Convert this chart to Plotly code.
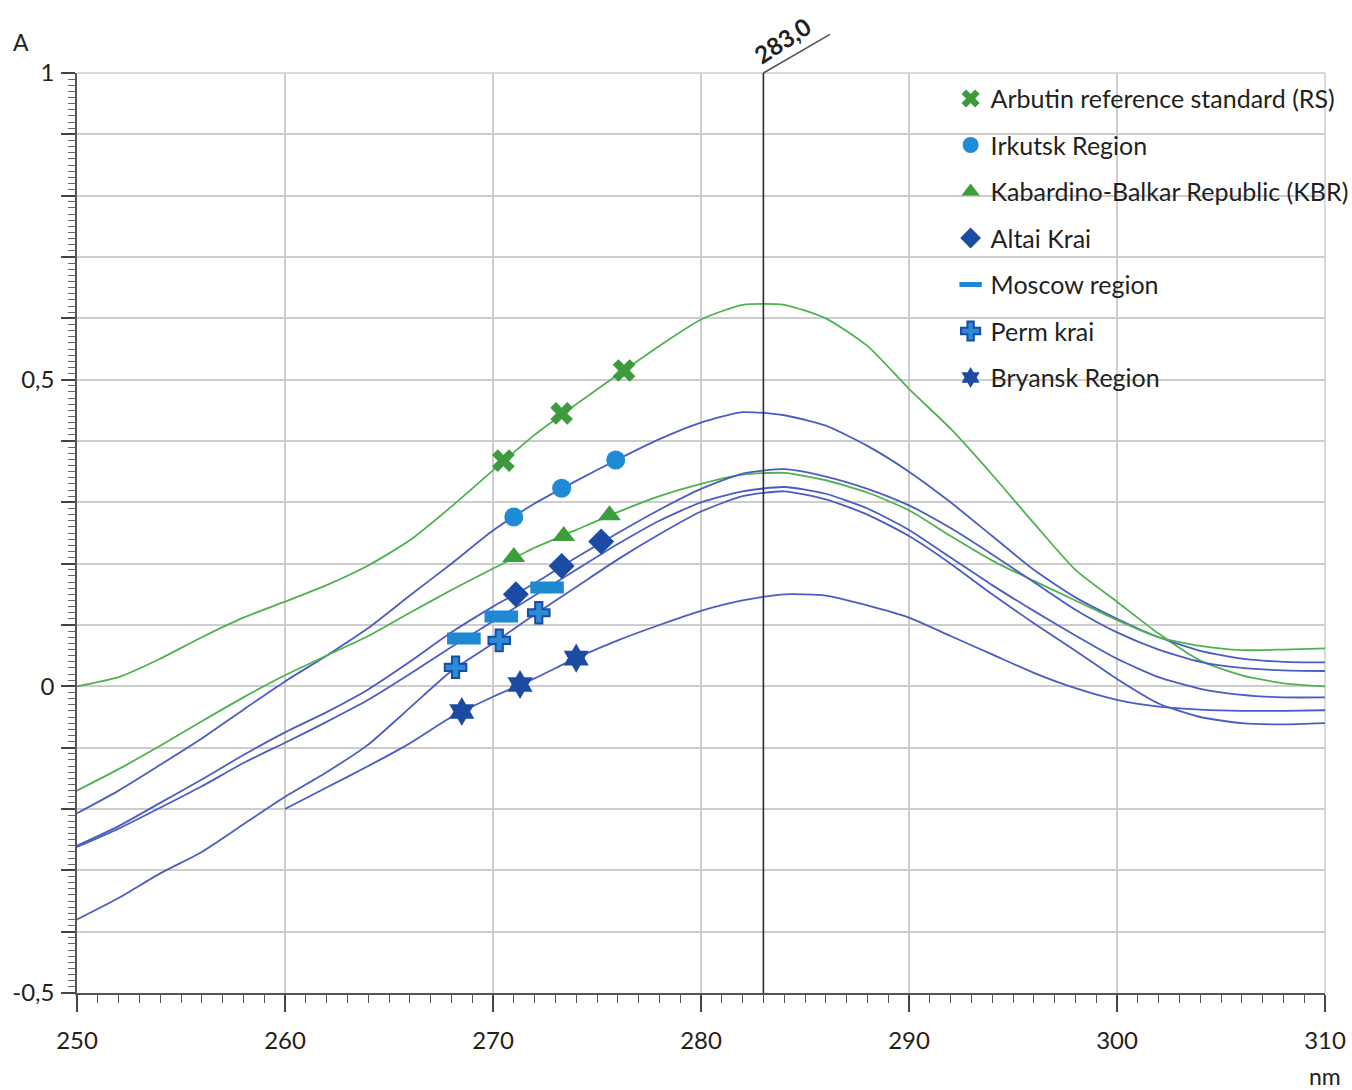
import plotly.graph_objects as go

# ---------------- data ----------------
wavelength = [250, 252, 254, 256, 258, 260, 262, 264, 266, 268, 270, 272, 274, 276, 278,
              280, 282, 284, 286, 288, 290, 292, 294, 296, 298, 300, 302, 304, 306, 308, 310]

rs = [0.0, 0.015, 0.045, 0.08, 0.112, 0.138, 0.165, 0.197, 0.238, 0.293, 0.352, 0.41, 0.46, 0.508, 0.555,
      0.598, 0.622, 0.622, 0.60, 0.555, 0.485, 0.42, 0.345, 0.266, 0.19, 0.138, 0.086, 0.042, 0.018, 0.005, 0.0]
irkutsk = [-0.207, -0.17, -0.128, -0.085, -0.038, 0.008, 0.05, 0.095, 0.148, 0.2, 0.254, 0.298, 0.335, 0.37, 0.403,
           0.43, 0.447, 0.442, 0.425, 0.392, 0.35, 0.3, 0.245, 0.19, 0.145, 0.11, 0.08, 0.058, 0.045, 0.04, 0.039]
kbr = [-0.17, -0.135, -0.097, -0.057, -0.018, 0.018, 0.05, 0.082, 0.12, 0.157, 0.192, 0.226, 0.255, 0.284, 0.31,
       0.33, 0.345, 0.348, 0.336, 0.316, 0.287, 0.245, 0.205, 0.172, 0.14, 0.108, 0.08, 0.066, 0.059, 0.06, 0.062]
altai = [-0.26, -0.228, -0.19, -0.152, -0.112, -0.075, -0.042, -0.005, 0.04, 0.088, 0.13, 0.168, 0.21, 0.25, 0.288,
         0.322, 0.347, 0.354, 0.342, 0.322, 0.295, 0.258, 0.215, 0.17, 0.125, 0.088, 0.06, 0.04, 0.03, 0.026, 0.025]
moscow = [-0.262, -0.232, -0.198, -0.163, -0.125, -0.092, -0.058, -0.022, 0.02, 0.064, 0.106, 0.148, 0.19, 0.232, 0.27,
          0.3, 0.318, 0.325, 0.314, 0.29, 0.255, 0.21, 0.165, 0.123, 0.083, 0.045, 0.015, -0.004, -0.014, -0.018, -0.018]
perm = [-0.38, -0.345, -0.305, -0.27, -0.225, -0.18, -0.14, -0.095, -0.035, 0.025, 0.07, 0.117, 0.162, 0.207, 0.248,
        0.285, 0.31, 0.318, 0.305, 0.28, 0.245, 0.2, 0.15, 0.103, 0.058, 0.012, -0.028, -0.05, -0.06, -0.062, -0.06]
bryansk = [None, None, None, None, None, -0.2, -0.165, -0.13, -0.093, -0.05, -0.017, 0.013, 0.046, 0.075, 0.1,
           0.123, 0.14, 0.15, 0.148, 0.132, 0.112, 0.082, 0.052, 0.022, -0.003, -0.022, -0.033, -0.038, -0.04, -0.04, -0.039]

# marker points (wavelength, absorbance)
rs_mx, rs_my = [270.5, 273.3, 276.3], [0.368, 0.445, 0.515]
irk_mx, irk_my = [271.0, 273.3, 275.9], [0.276, 0.323, 0.369]
kbr_mx, kbr_my = [271.0, 273.4, 275.6], [0.211, 0.245, 0.279]
alt_mx, alt_my = [271.1, 273.3, 275.2], [0.150, 0.196, 0.236]
mos_mx, mos_my = [268.6, 270.4, 272.6], [0.078, 0.114, 0.161]
perm_mx, perm_my = [268.2, 270.3, 272.2], [0.031, 0.075, 0.120]
bry_mx, bry_my = [268.5, 271.3, 274.0], [-0.041, 0.003, 0.046]

names = ["Arbutin reference standard (RS)", "Irkutsk Region", "Kabardino-Balkar Republic (KBR)",
         "Altai Krai", "Moscow region", "Perm krai", "Bryansk Region"]

peak_nm = 283.0
y_ticks = [-0.5, -0.4, -0.3, -0.2, -0.1, 0.0, 0.1, 0.2, 0.3, 0.4, 0.5, 0.6, 0.7, 0.8, 0.9, 1.0]
y_labels = {-0.5: "-0,5", 0.0: "0", 0.5: "0,5", 1.0: "1"}

# ---------------- styling ----------------
BLUE_LINE = "#4b5dc3"
GREEN_LINE = "#4fb250"
FONT = "Lato"
TXT = "#231f20"
GRID = "#cdcdcd"

fig = go.Figure()

curves = [
    (rs, GREEN_LINE), (irkutsk, BLUE_LINE), (kbr, GREEN_LINE), (altai, BLUE_LINE),
    (moscow, BLUE_LINE), (perm, BLUE_LINE), (bryansk, BLUE_LINE),
]
for ys, col in curves:
    fig.add_trace(go.Scatter(x=wavelength, y=ys, mode="lines",
                             line=dict(color=col, width=1.8, shape="spline", smoothing=0.6),
                             showlegend=False, hoverinfo="skip", connectgaps=False))

marker_specs = [
    (rs_mx, rs_my, dict(symbol="x", size=20, color="#3d9a3d", line=dict(width=0))),
    (irk_mx, irk_my, dict(symbol="circle", size=19, color="#1f8ad5", line=dict(width=0))),
    (kbr_mx, kbr_my, dict(symbol="triangle-up", size=20, color="#3c9d3c", line=dict(width=0))),
    (alt_mx, alt_my, dict(symbol="diamond", size=20, color="#1c4ba3", line=dict(width=0))),
    (mos_mx, mos_my, dict(symbol="line-ew", size=24, color="#1f88d2", line=dict(width=12, color="#1f88d2"))),
    (perm_mx, perm_my, dict(symbol="cross", size=18, color="#2a8bd6", line=dict(width=2, color="#1c4ba3"))),
    (bry_mx, bry_my, dict(symbol="hexagram", size=22, color="#1c4ba3", line=dict(width=0))),
]
for i, (mx, my, mk) in enumerate(marker_specs):
    fig.add_trace(go.Scatter(x=mx, y=my, mode="markers", marker=mk, name=names[i],
                             legendgroup=f"g{i}", showlegend=True))

# plot frame (top / right) in grid colour
fig.add_shape(type="line", xref="paper", yref="paper", x0=0, x1=1, y0=1, y1=1,
              line=dict(color=GRID, width=1.5), layer="below")
fig.add_shape(type="line", xref="paper", yref="paper", x0=1, x1=1, y0=0, y1=1,
              line=dict(color=GRID, width=1.5), layer="below")

# vertical peak line
fig.add_shape(type="line", xref="x", yref="paper", x0=peak_nm, x1=peak_nm, y0=0, y1=1,
              line=dict(color="#2b2b2b", width=1.6), layer="above")
fig.add_shape(type="line", xref="x", yref="paper", x0=peak_nm, x1=peak_nm + 3.2, y0=1, y1=1.042,
              line=dict(color="#555555", width=1.6), layer="above")
fig.add_annotation(x=peak_nm + 0.9, xref="x", y=1.035, yref="paper",
                   text=f"<b>{peak_nm:.1f}</b>".replace(".", ","), textangle=-33, showarrow=False,
                   font=dict(family=FONT, size=24, color=TXT), xanchor="center", yanchor="middle")

fig.add_annotation(x=-0.045, xref="paper", y=1.034, yref="paper", text="A", showarrow=False,
                   font=dict(family=FONT, size=23, color=TXT), xanchor="center", yanchor="middle")
fig.add_annotation(x=1.0, xref="paper", y=-0.09, yref="paper", text="nm", showarrow=False,
                   font=dict(family=FONT, size=23, color=TXT), xanchor="center", yanchor="middle")

fig.update_layout(
    width=1352, height=1090,
    margin=dict(l=77, r=27, t=73, b=97, autoexpand=False),
    paper_bgcolor="white", plot_bgcolor="white",
    font=dict(family=FONT, size=24, color=TXT),
    xaxis=dict(range=[250, 310], dtick=10, tick0=250, showgrid=True, gridcolor=GRID, gridwidth=1.5,
               ticks="outside", ticklen=17, tickwidth=1.5, tickcolor="#444",
               showline=True, linecolor="#555", linewidth=1.5, zeroline=False,
               ticklabelstandoff=8, tickfont=dict(size=24, color=TXT),
               minor=dict(dtick=1, ticks="outside", ticklen=8, tickwidth=1.3, tickcolor="#555", showgrid=False)),
    yaxis=dict(range=[-0.5, 1.0], tickvals=y_ticks,
               ticktext=[y_labels.get(round(v, 1), "") for v in y_ticks],
               showgrid=True, gridcolor=GRID, gridwidth=1.5,
               ticks="outside", ticklen=14, tickwidth=1.5, tickcolor="#444",
               showline=True, linecolor="#555", linewidth=1.5, zeroline=False,
               ticklabelstandoff=2, tickfont=dict(size=24, color=TXT),
               minor=dict(dtick=0.01, tick0=0, ticks="outside", ticklen=7, tickwidth=1.2, tickcolor="#666", showgrid=False)),
    legend=dict(x=0.700, xanchor="left", y=0.997, yanchor="top", bgcolor="rgba(0,0,0,0)",
                font=dict(family=FONT, size=25, color=TXT), traceorder="grouped",
                tracegroupgap=11, itemsizing="trace"),
    showlegend=True,
)

fig.write_html("out.html")
